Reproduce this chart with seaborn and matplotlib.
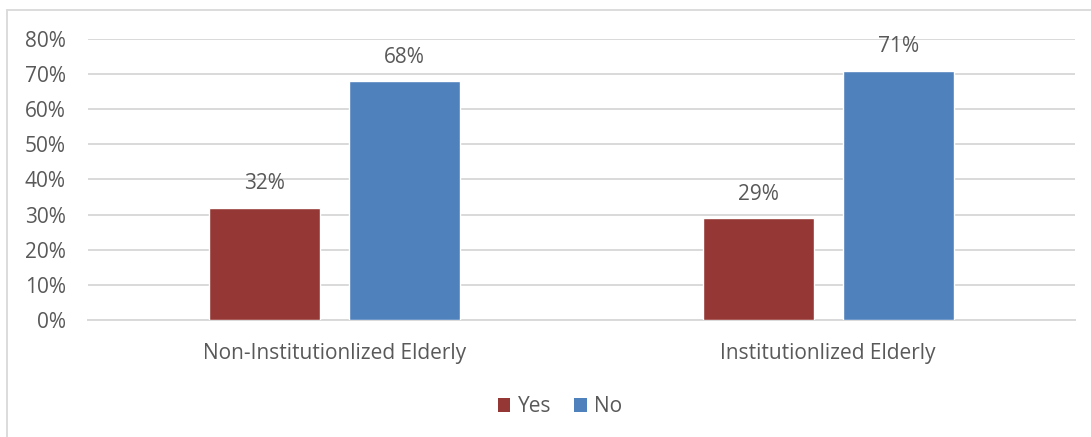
import matplotlib
matplotlib.use("Agg")
import matplotlib.pyplot as plt
from matplotlib.lines import Line2D
from matplotlib.patches import Patch
import seaborn as sns
import pandas as pd

# Survey responses by residence group
groups = ["Non-Institutionlized Elderly", "Institutionlized Elderly"]
answers = ["Yes", "No"]
yes_share = [0.32, 0.29]
no_share = [0.68, 0.71]
y_ticks = [0.0, 0.1, 0.2, 0.3, 0.4, 0.5, 0.6, 0.7, 0.8]

palette = {"Yes": "#953735", "No": "#4F81BD"}
text_color = "#595959"
grid_color = "#D9D9D9"
fs = 15

df = pd.DataFrame({
    "group": groups * 2,
    "answer": ["Yes"] * len(groups) + ["No"] * len(groups),
    "share": yes_share + no_share,
})

sns.set_theme(style="white")
plt.rcParams["font.family"] = ["Open Sans", "DejaVu Sans"]

fig = plt.figure(figsize=(10.91, 4.37), dpi=100)
ax = fig.add_axes([88 / 1091, 1 - 320 / 437, (1075 - 88) / 1091, (320 - 39) / 437])

sns.barplot(data=df, x="group", y="share", hue="answer", hue_order=answers,
            order=groups, palette=palette, width=0.567, gap=0.207,
            saturation=1, ax=ax, legend=False, zorder=3)

ax.set_ylim(0, 0.8)
ax.set_xlim(-0.5, 1.5)
ax.set_yticks(y_ticks)
ax.set_yticklabels([f"{int(round(t * 100))}%" for t in y_ticks])
ax.yaxis.grid(True, color=grid_color, linewidth=1.4, zorder=0)
ax.set_axisbelow(True)
for side in ["top", "right", "left"]:
    ax.spines[side].set_visible(False)
ax.spines["bottom"].set_color(grid_color)
ax.spines["bottom"].set_linewidth(1.4)
ax.tick_params(axis="y", length=0, pad=16, labelsize=fs, labelcolor=text_color)
ax.tick_params(axis="x", length=0, pad=16.5, labelsize=fs, labelcolor=text_color)
ax.set_xlabel("")
ax.set_ylabel("")

# Value labels above each bar
for container in ax.containers:
    for bar in container:
        h = bar.get_height()
        ax.annotate(f"{int(round(h * 100))}%",
                    (bar.get_x() + bar.get_width() / 2, h),
                    xytext=(0, 9.5), textcoords="offset points",
                    ha="center", va="bottom", fontsize=fs, color=text_color)

handles = [Patch(facecolor=palette[a], edgecolor="none", label=a) for a in answers]
fig.legend(handles=handles, loc="center", bbox_to_anchor=(560 / 1091, 1 - 407 / 437),
           ncol=2, frameon=False, fontsize=fs, handlelength=0.62, handleheight=0.62,
           handletextpad=0.35, columnspacing=1.1, labelcolor=text_color)

# Chart area border (top and left edges)
fig.add_artist(Line2D([7 / 1091, 1.0], [1 - 10 / 437, 1 - 10 / 437],
                      transform=fig.transFigure, color=grid_color, linewidth=1.3))
fig.add_artist(Line2D([7 / 1091, 7 / 1091], [0.0, 1 - 10 / 437],
                      transform=fig.transFigure, color=grid_color, linewidth=1.3))

fig.savefig("out.png", dpi=100, facecolor="white")
